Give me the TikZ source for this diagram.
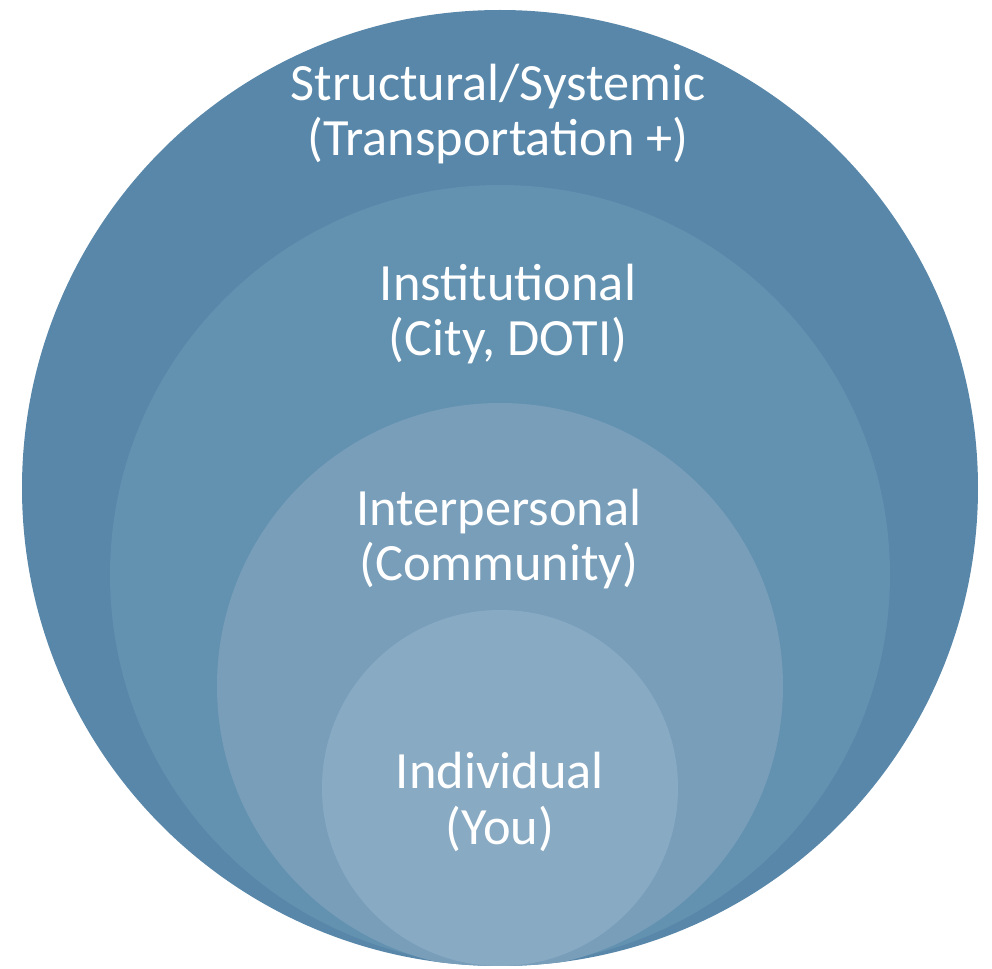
\documentclass[tikz,border=0pt]{standalone}
\usepackage{fontspec}
\setmainfont{Carlito}
\usetikzlibrary{positioning}

\definecolor{ringA}{HTML}{5887A9}
\definecolor{ringB}{HTML}{6391B0}
\definecolor{ringC}{HTML}{789EBA}
\definecolor{ringD}{HTML}{89AAC3}

\begin{document}
\begin{tikzpicture}
	\useasboundingbox (0,0) rectangle (9.92,9.69);
	\begin{scope}[every node/.style={circle,inner sep=0pt}]
		\node[fill=ringA,minimum size=9.56cm] (aussen) at (5.00,4.81) {};
		\begin{scope}
			\clip (5.00,4.81) circle (4.78);
			\node[fill=ringB,minimum size=7.80cm] (zweite) at (5.00,3.94) {};
			\node[fill=ringC,minimum size=5.66cm] (dritte) at (5.00,2.83) {};
			\node[fill=ringD,minimum size=3.56cm] (vierte) at (5.00,1.81) {};
		\end{scope}
	\end{scope}

	\begin{scope}[every node/.style={align=center,text=white,
		font=\fontsize{14.9}{15.8}\selectfont}]
		\node (struct) at (4.98,8.55) {Structural/Systemic\\(Transportation +)};
		\node (instit) at (5.08,6.55) {Institutional\\(City, DOTI)};
		\node (interp) at (4.99,4.30) {Interpersonal\\(Community)};
		\node (indiv) at (5.00,1.67) {Individual\\(You)};
	\end{scope}
\end{tikzpicture}
\end{document}
